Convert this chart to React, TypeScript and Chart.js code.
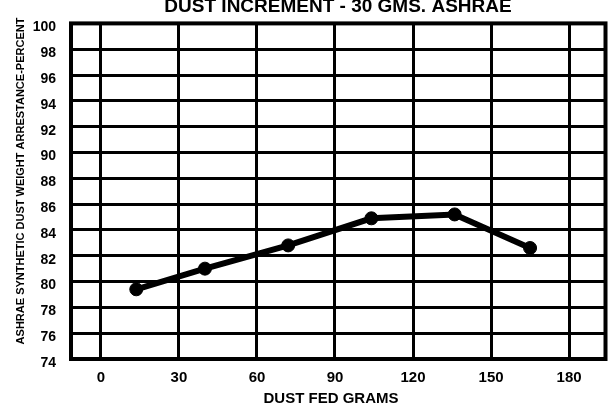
import React, { useEffect, useRef } from "react";
import { Chart, registerables } from "chart.js";

Chart.register(...registerables);

const chartTitle = "DUST INCREMENT - 30 GMS. ASHRAE";
const xAxisTitle = "DUST FED GRAMS";
const yAxisTitle = "ASHRAE SYNTHETIC DUST WEIGHT ARRESTANCE-PERCENT";

const xTickValues = [0, 30, 60, 90, 120, 150, 180];
const yTickValues = [74, 76, 78, 80, 82, 84, 86, 88, 90, 92, 94, 96, 98, 100];

const dustFedGrams = [13.6, 40, 72, 104, 136, 165];
const arrestancePercent = [79.4, 81.0, 82.8, 84.9, 85.2, 82.6];

const FONT = '"Liberation Sans", Arial, Helvetica, sans-serif';

export default function App() {
  const canvasRef = useRef<HTMLCanvasElement | null>(null);

  useEffect(() => {
    const canvas = canvasRef.current;
    if (!canvas) return;

    const framePlugin = {
      id: "frameAndTitles",
      beforeDatasetsDraw(chart: any) {
        const { ctx, chartArea } = chart;
        ctx.save();
        ctx.strokeStyle = "#000";
        ctx.lineWidth = 4;
        ctx.strokeRect(
          chartArea.left,
          chartArea.top,
          chartArea.right - chartArea.left,
          chartArea.bottom - chartArea.top
        );
        ctx.restore();
      },
      afterDraw(chart: any) {
        const { ctx } = chart;
        ctx.save();
        ctx.fillStyle = "#000";
        ctx.textAlign = "center";
        ctx.textBaseline = "alphabetic";
        ctx.font = `bold 19px ${FONT}`;
        ctx.fillText(chartTitle, 338, 11.5);

        ctx.textBaseline = "middle";
        ctx.font = `bold 15px ${FONT}`;
        ctx.fillText(xAxisTitle, 331, 399);

        ctx.translate(20.5, 181);
        ctx.rotate(-Math.PI / 2);
        ctx.font = `bold 11px ${FONT}`;
        ctx.fillText(yAxisTitle, 0, 0);
        ctx.restore();
      },
    };

    const chart = new Chart(canvas, {
      type: "line",
      data: {
        datasets: [
          {
            data: dustFedGrams.map((x, i) => ({ x, y: arrestancePercent[i] })),
            borderColor: "#000",
            backgroundColor: "#000",
            borderWidth: 6,
            pointRadius: 6.5,
            pointBorderWidth: 1,
            pointBackgroundColor: "#000",
            pointBorderColor: "#000",
            tension: 0,
            fill: false,
          },
        ],
      },
      options: {
        animation: false,
        responsive: false,
        maintainAspectRatio: false,
        layout: { padding: { left: 0, right: 3, top: 14, bottom: 0 } },
        plugins: {
          legend: { display: false },
          tooltip: { enabled: false },
          title: { display: false },
        },
        scales: {
          x: {
            type: "linear",
            min: -11.5,
            max: 194,
            afterBuildTicks: (s: any) => {
              s.ticks = xTickValues.map((v) => ({ value: v }));
            },
            afterFit: (s: any) => {
              s.height = 55;
            },
            grid: { color: "#000", lineWidth: 3, drawTicks: false },
            border: { display: false },
            ticks: {
              color: "#000",
              font: { family: FONT, size: 15, weight: "bold" },
              padding: 10,
              maxRotation: 0,
              autoSkip: false,
            },
          },
          y: {
            type: "linear",
            min: 74,
            max: 100,
            afterBuildTicks: (s: any) => {
              s.ticks = yTickValues.map((v) => ({ value: v }));
            },
            afterFit: (s: any) => {
              s.width = 71;
            },
            grid: { color: "#000", lineWidth: 3, drawTicks: false },
            border: { display: false },
            ticks: {
              color: "#000",
              font: { family: FONT, size: 14, weight: "bold" },
              padding: 15,
              labelOffset: 4,
              autoSkip: false,
            },
          },
        },
      },
      plugins: [framePlugin],
    } as any);

    return () => {
      chart.destroy();
    };
  }, []);

  return (
    <div
      style={{
        position: "fixed",
        left: 0,
        top: 0,
        width: 613,
        height: 414,
        background: "#fff",
      }}
    >
      <canvas ref={canvasRef} width={613} height={414} />
    </div>
  );
}
